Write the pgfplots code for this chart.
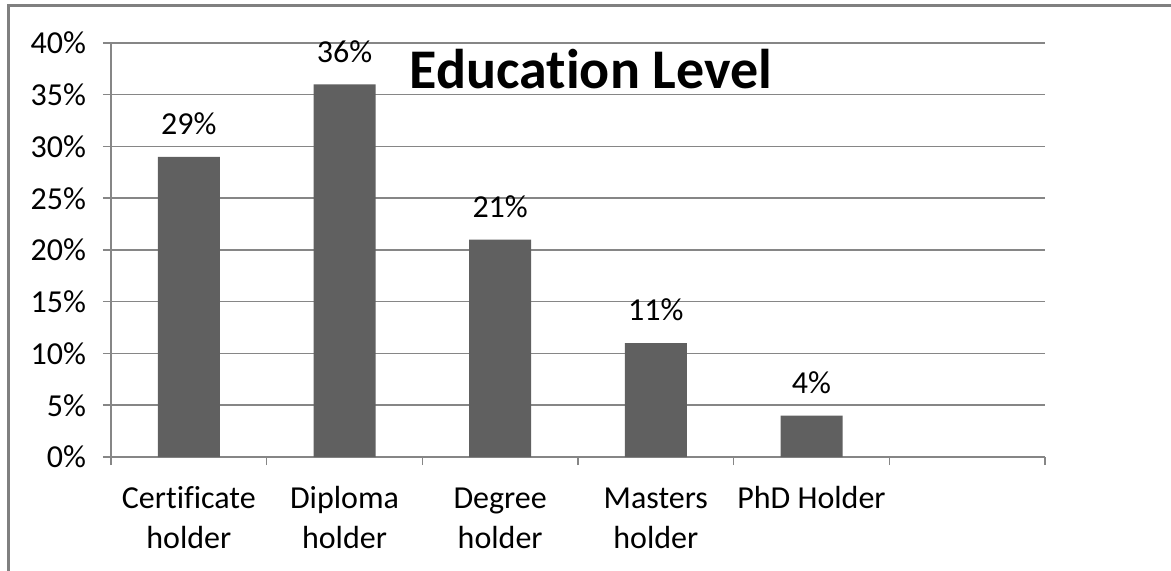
\documentclass[border=0pt]{standalone}
\usepackage{fontspec}
\setmainfont{Carlito}[Ligatures=NoCommon]
\usepackage{pgfplots}
\pgfplotsset{compat=1.18}
\definecolor{gridc}{RGB}{134,134,134}
\definecolor{barc}{RGB}{96,96,96}
\definecolor{framec}{RGB}{128,128,128}
\begin{document}
\begin{tikzpicture}
\begin{axis}[
  at={(55.5bp,57bp)}, anchor=south west,
  scale only axis, width=467bp, height=207bp,
  xmin=-0.5, xmax=5.5, ymin=0, ymax=40,
  axis lines=left, axis line style={-, gridc, line width=0.75bp},
  ytick={0,5,...,40},
  yticklabels={0\%,5\%,10\%,15\%,20\%,25\%,30\%,35\%,40\%},
  xtick={0,1,2,3,4},
  xticklabels={\strut Certificate\\holder, \strut Diploma\\holder, \strut Degree\\holder, \strut Masters\\holder, \strut PhD Holder},
  minor xtick={-0.5,0.5,...,5.5},
  ymajorgrids, grid style={gridc, line width=0.75bp},
  tick align=outside,
  major tick length=4bp, minor tick length=4bp,
  major x tick style={draw=none},
  minor x tick style={gridc, line width=0.75bp},
  ytick style={gridc, line width=0.75bp},
  x tick label style={font=\fontsize{16bp}{20bp}\selectfont, align=center, yshift=-4bp},
  y tick label style={font=\fontsize{16bp}{19bp}\selectfont, xshift=-5bp},
  clip=false,
]
\addplot[ybar, bar width=31bp, fill=barc, draw=none,
  nodes near coords, point meta=explicit symbolic,
  every node near coord/.append style={font=\fontsize{16bp}{19bp}\selectfont, black, yshift=7.5bp}]
  coordinates {(0,29)[29\%] (1,36)[36\%] (2,21)[21\%] (3,11)[11\%] (4,4)[4\%]};
\end{axis}
\node[font=\bfseries\fontsize{28bp}{32bp}\selectfont] at (295.5bp,251bp) {Education Level};
\draw[framec, line width=1.5bp] (4bp,0) -- (4bp,282.5bp) -- (585.5bp,282.5bp);
\pgfresetboundingbox
\path (0,0) rectangle (585.5bp,285.5bp);
\end{tikzpicture}
\end{document}
